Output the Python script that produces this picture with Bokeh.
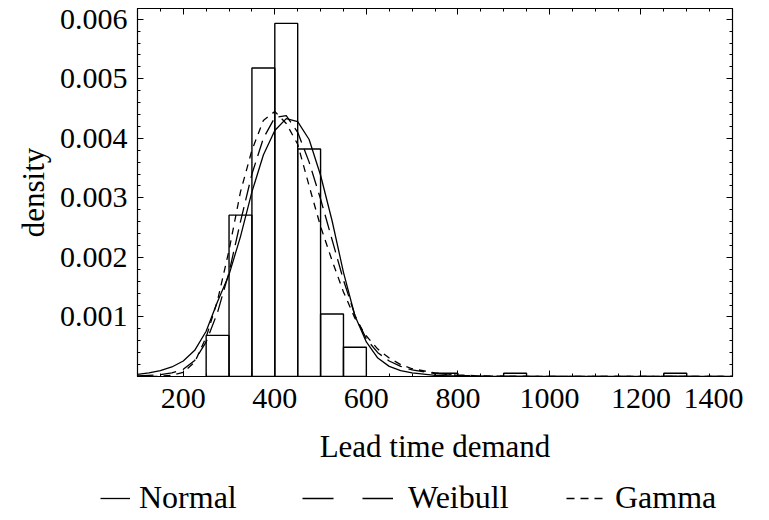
from bokeh.plotting import figure
from bokeh.layouts import column
from bokeh.models import (Range1d, FixedTicker, LinearAxis, NumeralTickFormatter,
                          Legend, LegendItem, ColumnDataSource, CustomLabelingPolicy)
from bokeh.embed import file_html
from bokeh.resources import INLINE

# ---- data ----
bin_lo = [250, 300, 350, 400, 450, 500, 550, 750, 900, 1250]
bin_hi = [300, 350, 400, 450, 500, 550, 600, 800, 950, 1300]
bin_density = [0.00069, 0.00271, 0.00518, 0.00593, 0.00382, 0.00105, 0.00049,
               0.000055, 0.000055, 0.000055]

curve_x = [100, 125, 150, 175, 200, 225, 250, 275, 300, 325, 350, 375, 400, 425,
           450, 475, 500, 525, 550, 575, 600, 625, 650, 675, 700, 750, 800, 850,
           900, 1000, 1200, 1400]
normal_y = [0.000034, 0.00006, 0.0001, 0.00016, 0.00026, 0.00044, 0.00076, 0.00126,
            0.00171, 0.00235, 0.0031, 0.00372, 0.00413, 0.00433, 0.00428, 0.00398,
            0.00338, 0.00262, 0.00175, 0.00102, 0.00058, 0.00031, 0.00017, 0.0001,
            0.00006, 0.00002, 0.000006, 0.0, 0.0, 0.0, 0.0, 0.0]
weibull_y = [0.00001, 0.00002, 0.00003, 0.00006, 0.00012, 0.00027, 0.00058, 0.00108,
             0.00175, 0.0026, 0.0034, 0.004, 0.00435, 0.00438, 0.0041, 0.0036,
             0.00298, 0.0023, 0.00162, 0.00103, 0.00063, 0.0004, 0.00026, 0.00017,
             0.00011, 0.00005, 0.00002, 0.00001, 0.000004, 0.0, 0.0, 0.0]
gamma_y = [0.0, 0.0, 0.000004, 0.00002, 0.00007, 0.00024, 0.00066, 0.00128,
           0.00212, 0.0031, 0.0038, 0.0043, 0.00445, 0.00425, 0.0039, 0.0032,
           0.00252, 0.00195, 0.00142, 0.00098, 0.00068, 0.00046, 0.00031, 0.0002,
           0.00013, 0.00006, 0.000025, 0.00001, 0.000004, 0.0, 0.0, 0.0]

series_names = ["Normal", "Weibull", "Gamma"]

x_major = [200, 400, 600, 800, 1000, 1200, 1400]
x_minor = list(range(100, 1401, 50))
y_major = [0.001, 0.002, 0.003, 0.004, 0.005, 0.006]
y_minor = [i * 0.0002 for i in range(0, 31)]

FONT = "Liberation Serif"

p = figure(frame_width=595, frame_height=368, output_backend="svg",
           toolbar_location=None,
           x_range=Range1d(100, 1400), y_range=Range1d(0, 0.00618),
           x_axis_type=None, y_axis_type=None,
           min_border_left=137, min_border_right=0, min_border_top=8,
           min_border_bottom=0)
p.xgrid.visible = False
p.ygrid.visible = False
p.outline_line_color = "black"
p.outline_line_width = 1.2
p.background_fill_color = "white"
p.border_fill_color = "white"

hide_all = CustomLabelingPolicy(code="return new Set()")

def style(ax, labels=True):
    ax.major_tick_in = 6
    ax.major_tick_out = 0
    ax.minor_tick_in = 3
    ax.minor_tick_out = 0
    ax.axis_line_color = "black"
    ax.major_tick_line_color = "black"
    ax.minor_tick_line_color = "black"
    ax.major_label_text_font = FONT
    ax.major_label_text_color = "black"
    ax.axis_label_text_font = FONT
    ax.axis_label_text_font_style = "normal"
    ax.axis_label_text_color = "black"
    if labels:
        ax.major_label_text_font_size = "30px"
        ax.axis_label_text_font_size = "31px"
    else:
        ax.major_label_text_font_size = "2px"
        ax.major_label_standoff = 0
        ax.major_label_policy = hide_all

xt = FixedTicker(ticks=x_major, minor_ticks=x_minor)
yt = FixedTicker(ticks=y_major, minor_ticks=y_minor)

xb = LinearAxis(ticker=xt, axis_label="Lead time demand")
style(xb)
xb.major_label_standoff = 12
xb.axis_label_standoff = 18
p.add_layout(xb, "below")

yl = LinearAxis(ticker=yt, axis_label="density",
                formatter=NumeralTickFormatter(format="0.000"))
style(yl)
yl.major_label_standoff = 10
yl.axis_label_standoff = 6
p.add_layout(yl, "left")

xa = LinearAxis(ticker=FixedTicker(ticks=x_major, minor_ticks=x_minor))
style(xa, labels=False)
p.add_layout(xa, "above")
yr = LinearAxis(ticker=FixedTicker(ticks=y_major, minor_ticks=y_minor))
style(yr, labels=False)
p.add_layout(yr, "right")

# histogram
p.quad(left=bin_lo, right=bin_hi, bottom=0, top=bin_density,
       fill_color=None, line_color="black", line_width=1.4)

src = ColumnDataSource(dict(x=curve_x, n=normal_y, w=weibull_y, g=gamma_y))
p.line("x", "n", source=src, line_color="black", line_width=1.3)
p.line("x", "w", source=src, line_color="black", line_width=1.3, line_dash="16 7")
p.line("x", "g", source=src, line_color="black", line_width=1.3, line_dash="7 6")

# ---- legend strip: a second, axis-less figure below the chart ----
q = figure(frame_width=753, frame_height=50, output_backend="svg",
           toolbar_location=None, x_axis_type=None, y_axis_type=None,
           x_range=Range1d(0, 1), y_range=Range1d(0, 1),
           min_border_left=0, min_border_right=0, min_border_top=0,
           min_border_bottom=0)
q.outline_line_color = None
q.background_fill_color = "white"
q.border_fill_color = "white"

# single off-range point per key: nothing drawn in the strip, but the
# legend can draw its key glyph from it
key_src = ColumnDataSource(dict(x=[-5.0], y=[-5.0]))
kn = q.line("x", "y", source=key_src, line_color="black", line_width=1.3)
kw = q.line("x", "y", source=key_src, line_color="black", line_width=1.3,
            line_dash="31 29")
kg = q.line("x", "y", source=key_src, line_color="black", line_width=1.3,
            line_dash="8 6")

legend_specs = [(series_names[0], kn, 100, 30, 9),
                (series_names[1], kw, 302, 91, 15),
                (series_names[2], kg, 566, 37, 12)]
for name, r, lx, gw, so in legend_specs:
    leg = Legend(items=[LegendItem(label=name, renderers=[r])],
                 location=(lx, 0),
                 label_text_font=FONT, label_text_font_size="32px",
                 label_text_color="black",
                 glyph_width=gw, glyph_height=20, label_standoff=so,
                 border_line_color=None, background_fill_alpha=0,
                 padding=0, margin=0)
    q.add_layout(leg, "center")

open("out.html", "w").write(file_html(column(p, q, spacing=0), INLINE))
